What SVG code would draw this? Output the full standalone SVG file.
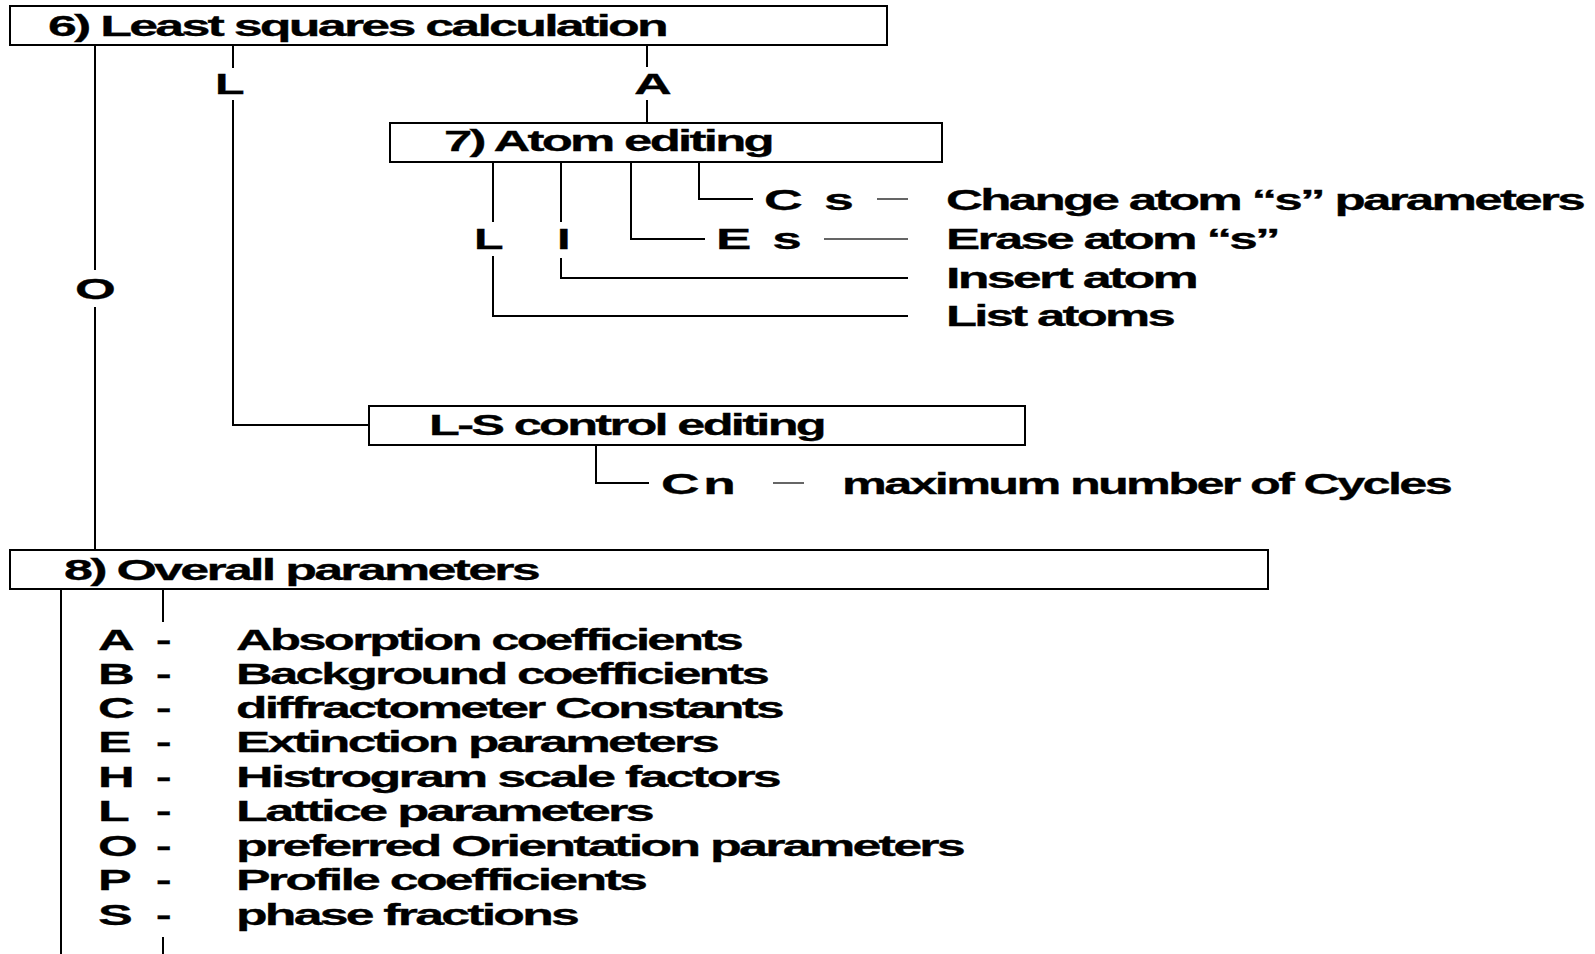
<svg xmlns="http://www.w3.org/2000/svg" width="1595" height="954" viewBox="0 0 1595 954">
<style>
text{font-family:"Liberation Sans",Arial,sans-serif;font-weight:bold;font-size:30px;fill:#000;stroke:#000;stroke-width:0.3;letter-spacing:-1.6px}
.box{fill:#fff;stroke:#000;stroke-width:2}
.ln{fill:none;stroke:#000;stroke-width:2}
.dash{fill:none;stroke:#333;stroke-width:1.5}
</style>
<rect width="1595" height="954" fill="#fff"/>
<g id="connectors">
<path class="ln" d="M95,45V270M95,307V550"/>
<path class="ln" d="M233,45V68M233,100V425H369"/>
<path class="ln" d="M647,45V67M647,100V123"/>
<path class="ln" d="M493,162V222M493,256V316H908"/>
<path class="ln" d="M561,162V222M561,258V278H908"/>
<path class="ln" d="M631,162V239H705"/>
<path class="ln" d="M699,162V199H753"/>
<path class="dash" d="M824,239H908M877,199H908"/>
<path class="ln" d="M596,445V483H649"/>
<path class="dash" d="M773,483H804"/>
<path class="ln" d="M61,589V954M163,589V622M163,937V954"/>
<text x="75" y="299" textLength="38" lengthAdjust="spacingAndGlyphs">O</text>
<text x="215" y="94" textLength="27" lengthAdjust="spacingAndGlyphs">L</text>
<text x="634" y="94" textLength="35" lengthAdjust="spacingAndGlyphs">A</text>
<text x="474" y="249" textLength="27" lengthAdjust="spacingAndGlyphs">L</text>
<text x="557" y="249" textLength="11" lengthAdjust="spacingAndGlyphs">I</text>
<text x="764" y="210" textLength="87" lengthAdjust="spacingAndGlyphs" xml:space="preserve" style="white-space:pre">C  s</text>
<text x="716" y="249" textLength="83" lengthAdjust="spacingAndGlyphs" xml:space="preserve" style="white-space:pre">E  s</text>
<text x="661" y="494" textLength="72" lengthAdjust="spacingAndGlyphs" style="word-spacing:-3px">C n</text>
</g>
<g id="node-least-squares">
<rect class="box" x="10" y="6" width="877" height="39"/>
<text x="48" y="36" textLength="618" lengthAdjust="spacingAndGlyphs">6) Least squares calculation</text>
</g>
<g id="node-atom-editing">
<rect class="box" x="390" y="123" width="552" height="39"/>
<text x="444" y="151" textLength="328" lengthAdjust="spacingAndGlyphs">7) Atom editing</text>
</g>
<g id="node-change">
<text x="946" y="210" textLength="637" lengthAdjust="spacingAndGlyphs">Change atom “s” parameters</text>
</g>
<g id="node-erase">
<text x="946" y="249" textLength="332" lengthAdjust="spacingAndGlyphs">Erase atom “s”</text>
</g>
<g id="node-insert">
<text x="946" y="288" textLength="250" lengthAdjust="spacingAndGlyphs">Insert atom</text>
</g>
<g id="node-list">
<text x="946" y="326" textLength="227" lengthAdjust="spacingAndGlyphs">List atoms</text>
</g>
<g id="node-ls-control">
<rect class="box" x="369" y="406" width="656" height="39"/>
<text x="429" y="435" textLength="395" lengthAdjust="spacingAndGlyphs">L-S control editing</text>
</g>
<g id="node-cycles">
<text x="842" y="494" textLength="608" lengthAdjust="spacingAndGlyphs">maximum number of Cycles</text>
</g>
<g id="node-overall">
<rect class="box" x="10" y="550" width="1258" height="39"/>
<text x="64" y="580" textLength="474" lengthAdjust="spacingAndGlyphs">8) Overall parameters</text>
</g>
<g id="node-overall-list">
<text x="98" y="650" textLength="34" lengthAdjust="spacingAndGlyphs">A</text>
<text x="156" y="650" textLength="13" lengthAdjust="spacingAndGlyphs">-</text>
<text x="236" y="650" textLength="505" lengthAdjust="spacingAndGlyphs">Absorption coefficients</text>
<text x="98" y="684" textLength="34" lengthAdjust="spacingAndGlyphs">B</text>
<text x="156" y="684" textLength="13" lengthAdjust="spacingAndGlyphs">-</text>
<text x="236" y="684" textLength="531" lengthAdjust="spacingAndGlyphs">Background coefficients</text>
<text x="98" y="718" textLength="34" lengthAdjust="spacingAndGlyphs">C</text>
<text x="156" y="718" textLength="13" lengthAdjust="spacingAndGlyphs">-</text>
<text x="236" y="718" textLength="546" lengthAdjust="spacingAndGlyphs">diffractometer Constants</text>
<text x="98" y="752" textLength="31" lengthAdjust="spacingAndGlyphs">E</text>
<text x="156" y="752" textLength="13" lengthAdjust="spacingAndGlyphs">-</text>
<text x="236" y="752" textLength="481" lengthAdjust="spacingAndGlyphs">Extinction parameters</text>
<text x="98" y="787" textLength="34" lengthAdjust="spacingAndGlyphs">H</text>
<text x="156" y="787" textLength="13" lengthAdjust="spacingAndGlyphs">-</text>
<text x="236" y="787" textLength="543" lengthAdjust="spacingAndGlyphs">Histrogram scale factors</text>
<text x="98" y="821" textLength="29" lengthAdjust="spacingAndGlyphs">L</text>
<text x="156" y="821" textLength="13" lengthAdjust="spacingAndGlyphs">-</text>
<text x="236" y="821" textLength="416" lengthAdjust="spacingAndGlyphs">Lattice parameters</text>
<text x="98" y="856" textLength="37" lengthAdjust="spacingAndGlyphs">O</text>
<text x="156" y="856" textLength="13" lengthAdjust="spacingAndGlyphs">-</text>
<text x="236" y="856" textLength="727" lengthAdjust="spacingAndGlyphs">preferred Orientation parameters</text>
<text x="98" y="890" textLength="31" lengthAdjust="spacingAndGlyphs">P</text>
<text x="156" y="890" textLength="13" lengthAdjust="spacingAndGlyphs">-</text>
<text x="236" y="890" textLength="409" lengthAdjust="spacingAndGlyphs">Profile coefficients</text>
<text x="98" y="925" textLength="32" lengthAdjust="spacingAndGlyphs">S</text>
<text x="156" y="925" textLength="13" lengthAdjust="spacingAndGlyphs">-</text>
<text x="236" y="925" textLength="341" lengthAdjust="spacingAndGlyphs">phase fractions</text>
</g>
</svg>
